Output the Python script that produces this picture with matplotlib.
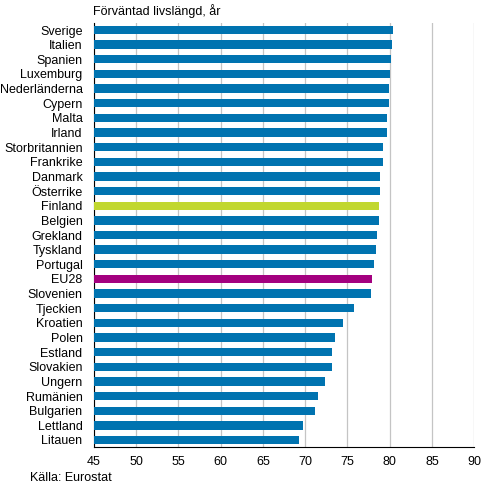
import matplotlib
matplotlib.use("Agg")
import matplotlib.pyplot as plt

# --- data ---
countries = ["Sverige", "Italien", "Spanien", "Luxemburg", "Nederländerna", "Cypern",
             "Malta", "Irland", "Storbritannien", "Frankrike", "Danmark", "Österrike",
             "Finland", "Belgien", "Grekland", "Tyskland", "Portugal", "EU28",
             "Slovenien", "Tjeckien", "Kroatien", "Polen", "Estland", "Slovakien",
             "Ungern", "Rumänien", "Bulgarien", "Lettland", "Litauen"]
life_exp = [80.4, 80.3, 80.2, 80.0, 79.9, 79.9,
            79.7, 79.7, 79.2, 79.2, 78.8, 78.8,
            78.7, 78.7, 78.5, 78.4, 78.1, 77.9,
            77.8, 75.8, 74.5, 73.5, 73.2, 73.2,
            72.3, 71.5, 71.2, 69.7, 69.3]
x_ticks = [45, 50, 55, 60, 65, 70, 75, 80, 85, 90]

plt.rcParams['font.family'] = ['Liberation Sans', 'DejaVu Sans']

colors = []
for c in countries:
    if c == "Finland":
        colors.append("#c1d72f")
    elif c == "EU28":
        colors.append("#a3007f")
    else:
        colors.append("#0073b0")

fig = plt.figure(figsize=(4.91, 4.95), dpi=100)
ax = fig.add_axes([93.7 / 491, 1 - 447.3 / 495, (474.3 - 93.7) / 491, (447.3 - 22.7) / 495])

ypos = list(range(len(countries)))
ax.barh(ypos, [v - 45 for v in life_exp], left=45, height=0.57, color=colors, zorder=3)

ax.set_xlim(45, 90)
ax.set_ylim(len(countries) - 0.5, -0.5)
ax.set_xticks(x_ticks)
ax.set_yticks(ypos)
ax.set_yticklabels(countries)
ax.tick_params(axis='both', length=0, labelsize=9, colors='black')
ax.tick_params(axis='x', pad=6)
ax.tick_params(axis='y', pad=8)

ax.grid(axis='x', color='#c4c4c4', linewidth=0.9, zorder=0)
for s in ["top", "right"]:
    ax.spines[s].set_visible(False)
ax.spines["left"].set_color("black")
ax.spines["bottom"].set_color("black")

fig.text(93 / 491, 1 - 11 / 495, "Förväntad livslängd, år", fontsize=9, va='center', ha='left')
fig.text(30 / 491, 1 - 478 / 495, "Källa: Eurostat", fontsize=9, va='center', ha='left')

fig.savefig("out.png", dpi=100)
